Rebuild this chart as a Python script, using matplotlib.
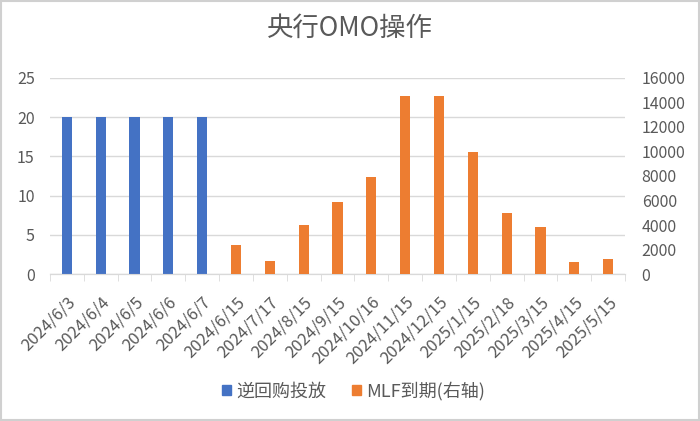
import matplotlib.pyplot as plt
import numpy as np
from matplotlib.patches import Rectangle, Patch

plt.rcParams['font.family'] = ['Noto Sans CJK SC', 'DejaVu Sans']

dates = ["2024/6/3", "2024/6/4", "2024/6/5", "2024/6/6", "2024/6/7",
         "2024/6/15", "2024/7/17", "2024/8/15", "2024/9/15", "2024/10/16",
         "2024/11/15", "2024/12/15", "2025/1/15", "2025/2/18", "2025/3/15",
         "2025/4/15", "2025/5/15"]
# 逆回购投放 (left axis)
repo = [20, 20, 20, 20, 20] + [np.nan] * 12
# MLF到期 (right axis)
mlf = [np.nan] * 5 + [2370, 1030, 4010, 5910, 7890, 14500, 14500,
                      9950, 5000, 3830, 1000, 1250]

blue = '#4472C4'
orange = '#ED7D31'
txt = '#595959'
grid = '#d9d9d9'

fig = plt.figure(figsize=(7, 4.21), dpi=100)
fig.patches.append(Rectangle((0.002, 0.003), 0.996, 0.994, transform=fig.transFigure,
                             fill=False, edgecolor='#d0d0d0', linewidth=1.5))

ax = fig.add_axes([0.0714, 0.349, 0.8215, 0.466])
ax2 = ax.twinx()

x = np.arange(len(dates))
w = 0.3
ax.bar(x, repo, width=w, color=blue, zorder=3)
ax2.bar(x, mlf, width=w, color=orange, zorder=3)

ax.set_xlim(-0.5, len(dates) - 0.5)
ax.set_ylim(0, 25)
ax.set_yticks(range(0, 26, 5))
ax2.set_ylim(0, 16000)
ax2.set_yticks(range(0, 16001, 2000))

ax.yaxis.grid(True, color=grid, linewidth=1)
ax.set_axisbelow(True)

for a in (ax, ax2):
    for s in ('top', 'left', 'right'):
        a.spines[s].set_visible(False)
    a.spines['bottom'].set_color(grid)
    a.tick_params(axis='y', length=0, labelsize=11.5, labelcolor=txt)

ax.tick_params(axis='y', pad=11)
ax2.tick_params(axis='y', pad=12)

ax.set_xticks(x)
ax.set_xticklabels(dates, rotation=45, ha='right', va='top', rotation_mode='anchor',
                   fontsize=12, color=txt)
ax.set_xticks(np.arange(-0.5, len(dates), 1), minor=True)
ax.tick_params(axis='x', which='major', length=0, pad=14)
ax.tick_params(axis='x', which='minor', length=5, color=grid)

fig.suptitle("央行OMO操作", x=0.5, y=0.965, fontsize=19, color=txt)

handles = [Patch(color=blue, label='逆回购投放'), Patch(color=orange, label='MLF到期(右轴)')]
fig.legend(handles=handles, loc='center', bbox_to_anchor=(0.505, 0.071), ncol=2,
           frameon=False, fontsize=13, labelcolor=txt, handlelength=0.5,
           handleheight=0.5, handletextpad=0.3, columnspacing=1.4)

fig.savefig('out.png', dpi=100, facecolor='white')
